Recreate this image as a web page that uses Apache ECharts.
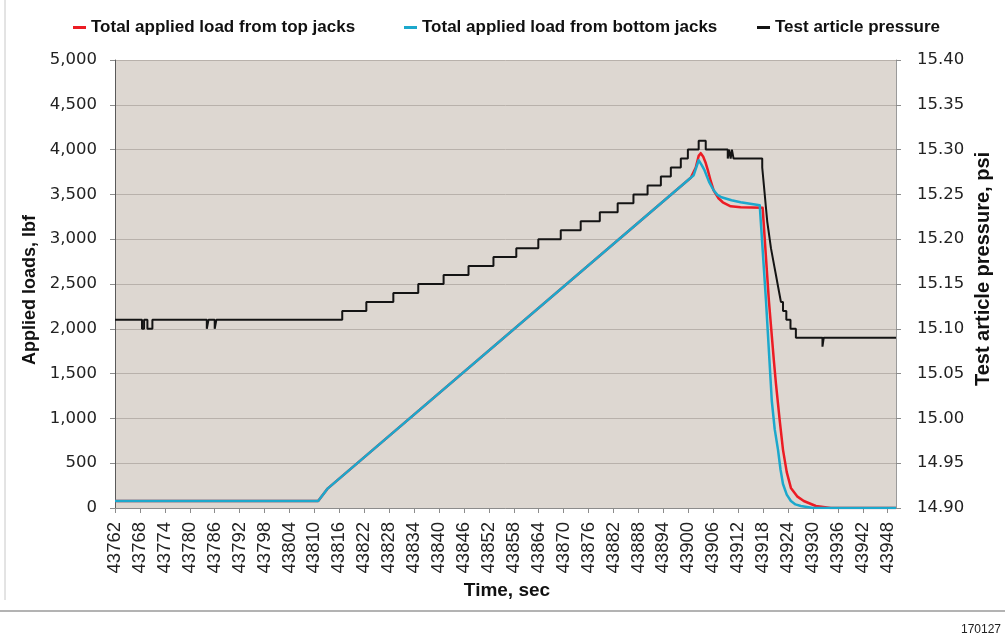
<!DOCTYPE html>
<html>
<head>
<meta charset="utf-8">
<script src="https://cdn.jsdelivr.net/npm/echarts@6/dist/echarts.min.js"></script>
<style>
  html, body { margin: 0; padding: 0; background: #ffffff; }
  #chart { width: 1005px; height: 640px; }
</style>
</head>
<body>
<div id="chart"></div>
<script>
// Time stamps shown on the horizontal axis (sec)
const tickTimes = [43762, 43768, 43774, 43780, 43786, 43792, 43798, 43804, 43810, 43816,
  43822, 43828, 43834, 43840, 43846, 43852, 43858, 43864, 43870, 43876, 43882, 43888,
  43894, 43900, 43906, 43912, 43918, 43924, 43930, 43936, 43942, 43948];

// Total applied load from top jacks (lbf)
const topTime = [43762, 43810.9, 43813.1, 43900.6, 43901.8, 43902.5, 43903.0, 43903.6, 43904.2,
  43904.7, 43905.4, 43906.1, 43907.2, 43908.3, 43910.2, 43912.6, 43917.9, 43919.4, 43920.6,
  43921.1, 43922.0, 43922.8, 43923.7, 43924.7, 43926.2, 43927.8, 43930.7, 43934.3, 43950];
const topLoad = [78, 78, 213, 3686, 3800, 3930, 3960, 3920, 3850,
  3770, 3650, 3546, 3460, 3412, 3367, 3356, 3350, 2316, 1644,
  1387, 980, 649, 400, 224, 130, 78, 22, 0, 0];

// Total applied load from bottom jacks (lbf)
const bottomTime = [43762, 43810.9, 43813.1, 43901.3, 43902.5, 43903.2, 43903.9, 43905.0,
  43906.1, 43907.0, 43908.0, 43910.4, 43912.6, 43917.2, 43918.7, 43920.1, 43920.8, 43921.6,
  43922.2, 43922.8, 43923.7, 43924.7, 43925.8, 43927.1, 43930.0, 43950];
const bottomLoad = [78, 78, 213, 3714, 3881, 3830, 3770, 3640,
  3546, 3495, 3468, 3434, 3412, 3378, 2316, 1197, 880, 649,
  430, 268, 150, 78, 40, 22, 0, 0];

// Test article pressure (psi): each entry is the time a new reading takes effect
const pressureTime = [43762,
  43768.5, 43769.0, 43769.8, 43771.0, 43784.1, 43784.5, 43786.0, 43786.4,
  43816.7, 43822.5, 43829.0, 43835.0, 43841.1, 43847.1, 43853.1, 43858.6, 43863.9, 43869.3,
  43874.1, 43878.7, 43883.0, 43886.8, 43890.2, 43893.4, 43895.8, 43898.2, 43899.9,
  43902.5, 43904.2, 43909.5, 43909.8, 43910.2, 43910.5, 43910.9,
  43917.8, 43918.0, 43918.2, 43918.4, 43918.6, 43918.8, 43919.0, 43919.3, 43919.6, 43919.9,
  43920.3, 43920.7, 43921.1, 43921.5, 43921.9, 43922.3, 43922.8, 43923.6, 43924.6, 43925.9,
  43932.3, 43932.6, 43950];
const pressureValue = [15.11,
  15.10, 15.11, 15.10, 15.11, 15.10, 15.11, 15.10, 15.11,
  15.12, 15.13, 15.14, 15.15, 15.16, 15.17, 15.18, 15.19, 15.20, 15.21,
  15.22, 15.23, 15.24, 15.25, 15.26, 15.27, 15.28, 15.29, 15.30,
  15.31, 15.30, 15.29, 15.30, 15.29, 15.30, 15.29,
  15.28, 15.27, 15.26, 15.25, 15.24, 15.23, 15.22, 15.21, 15.20, 15.19,
  15.18, 15.17, 15.16, 15.15, 15.14, 15.13, 15.12, 15.11, 15.10, 15.09,
  15.08, 15.09, 15.09];

const seriesNames = ['Total applied load from top jacks', 'Total applied load from bottom jacks', 'Test article pressure'];
const seriesColors = ['#ec1c24', '#1ca8cc', '#141414'];

const zip = (xs, ys) => xs.map((x, i) => [x, ys[i]]);

const labelFont = 'DejaVu Sans';
const textFont = 'Liberation Sans, Arial, sans-serif';

const legendBase = {
  top: 19,
  padding: 0,
  icon: 'rect',
  itemWidth: 13,
  itemHeight: 3,
  itemGap: 5,
  selectedMode: false,
  textStyle: { fontFamily: textFont, fontSize: 17, fontWeight: 'bold', color: '#111' }
};

const chart = echarts.init(document.getElementById('chart'), null, { renderer: 'canvas' });

chart.setOption({
  animation: false,
  backgroundColor: '#ffffff',
  legend: [
    Object.assign({ left: 73, data: [seriesNames[0]] }, legendBase),
    Object.assign({ left: 404, data: [seriesNames[1]] }, legendBase),
    Object.assign({ left: 757, data: [seriesNames[2]] }, legendBase)
  ],
  grid: {
    left: 115, right: 109, top: 60, bottom: 132,
    show: true, backgroundColor: '#ddd7d1', borderWidth: 0
  },
  xAxis: {
    type: 'value',
    min: 43762,
    max: 43950,
    axisLine: { show: true, lineStyle: { color: '#8c8c8c', width: 1 } },
    axisTick: { show: true, length: 5, customValues: tickTimes, lineStyle: { color: '#8c8c8c' } },
    axisLabel: {
      customValues: tickTimes,
      rotate: 90,
      margin: 14,
      fontFamily: textFont,
      fontSize: 18.5,
      color: '#222',
      formatter: v => String(v)
    },
    splitLine: { show: false }
  },
  yAxis: [
    {
      type: 'value',
      min: 0, max: 5000, interval: 500,
      axisLine: { show: true, lineStyle: { color: '#5a5a5a', width: 1 } },
      axisTick: { show: true, length: 5, lineStyle: { color: '#8c8c8c' } },
      axisLabel: {
        margin: 18,
        fontFamily: labelFont, fontSize: 16.5, color: '#222',
        formatter: v => v.toLocaleString('en-US')
      },
      splitLine: { show: true, lineStyle: { color: '#b8b1ab', width: 1 } }
    },
    {
      type: 'value',
      min: 14.90, max: 15.40, interval: 0.05,
      position: 'right',
      axisLine: { show: true, lineStyle: { color: '#9a9a9a', width: 1 } },
      axisTick: { show: true, length: 5, lineStyle: { color: '#8c8c8c' } },
      axisLabel: {
        margin: 21,
        fontFamily: labelFont, fontSize: 16.5, color: '#222',
        formatter: v => v.toFixed(2)
      },
      splitLine: { show: false }
    }
  ],
  series: [
    {
      name: seriesNames[0], type: 'line', yAxisIndex: 0,
      data: zip(topTime, topLoad),
      showSymbol: false,
      lineStyle: { color: seriesColors[0], width: 2.5, join: 'round' },
      itemStyle: { color: seriesColors[0] }
    },
    {
      name: seriesNames[1], type: 'line', yAxisIndex: 0,
      data: zip(bottomTime, bottomLoad),
      showSymbol: false,
      lineStyle: { color: seriesColors[1], width: 2.5, join: 'round' },
      itemStyle: { color: seriesColors[1] }
    },
    {
      name: seriesNames[2], type: 'line', yAxisIndex: 1,
      data: zip(pressureTime, pressureValue),
      step: 'end',
      showSymbol: false,
      lineStyle: { color: seriesColors[2], width: 2 },
      itemStyle: { color: seriesColors[2] }
    }
  ],
  graphic: [
    {
      type: 'text', x: 30, y: 290, rotation: Math.PI / 2,
      style: { text: 'Applied loads, lbf', fontFamily: textFont, fontSize: 18, fontWeight: 'bold',
        fill: '#111', align: 'center', verticalAlign: 'middle' }
    },
    {
      type: 'text', x: 983, y: 269, rotation: Math.PI / 2,
      style: { text: 'Test article pressure, psi', fontFamily: textFont, fontSize: 20, fontWeight: 'bold',
        fill: '#111', align: 'center', verticalAlign: 'middle' }
    },
    {
      type: 'text', x: 507, y: 591,
      style: { text: 'Time, sec', fontFamily: textFont, fontSize: 19, fontWeight: 'bold',
        fill: '#111', align: 'center', verticalAlign: 'middle' }
    },
    {
      type: 'line', shape: { x1: 5, y1: 0, x2: 5, y2: 600 },
      style: { stroke: '#c8c8c8', lineWidth: 1 }
    },
    {
      type: 'line', shape: { x1: 0, y1: 611, x2: 1005, y2: 611 },
      style: { stroke: '#9a9a9a', lineWidth: 1.5 }
    },
    {
      type: 'text', x: 1001, y: 630,
      style: { text: '170127', fontFamily: textFont, fontSize: 12, fill: '#222',
        align: 'right', verticalAlign: 'middle' }
    }
  ]
});
</script>
</body>
</html>
